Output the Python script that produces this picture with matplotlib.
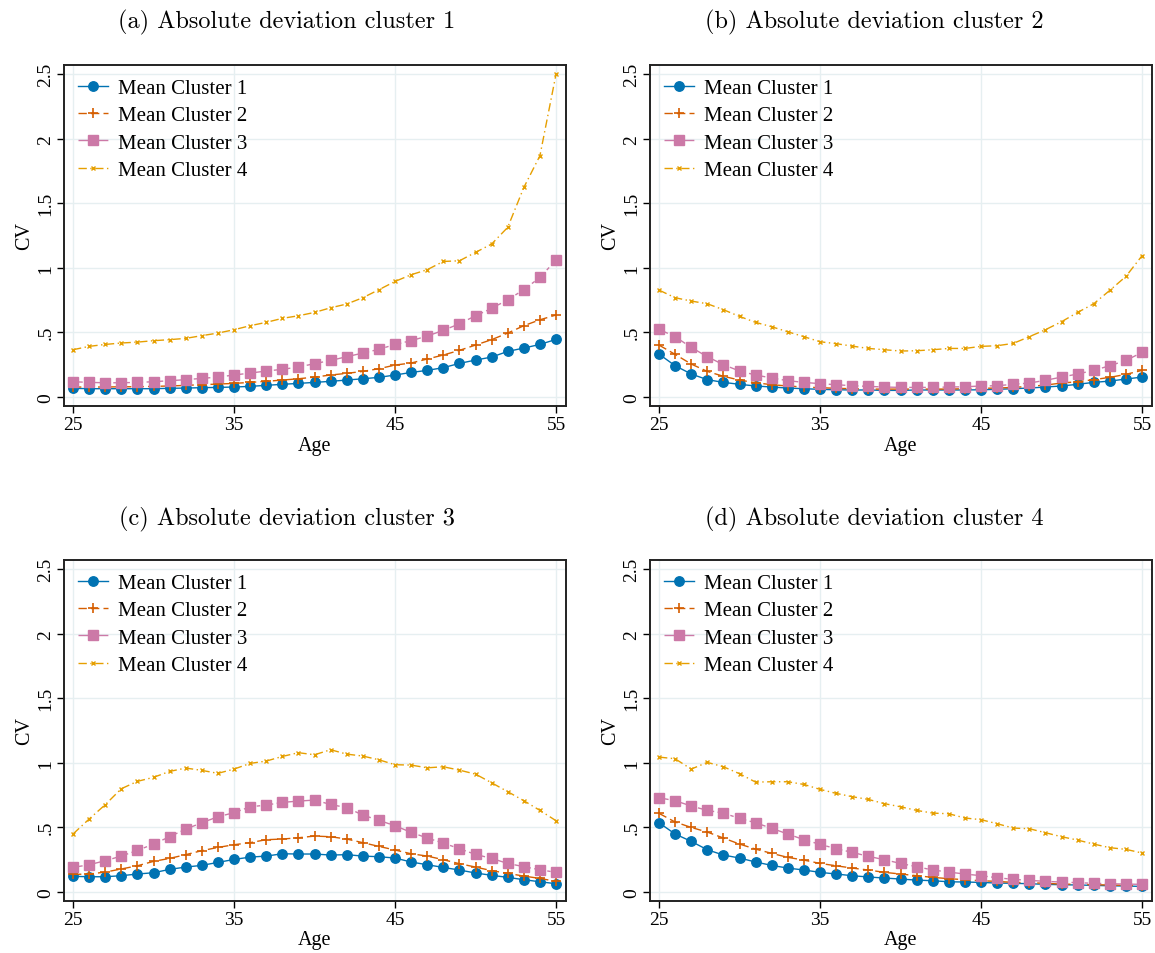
import matplotlib
matplotlib.use("Agg")
import matplotlib.pyplot as plt
import numpy as np

ages = list(range(25, 56))

# Panel (a): Absolute deviation cluster 1
a_c1 = [0.065,0.062,0.062,0.062,0.062,0.062,0.065,0.067,0.070,0.072,0.075,0.080,0.088,0.096,0.103,0.111,0.119,0.129,0.139,0.150,0.168,0.188,0.204,0.225,0.258,0.284,0.307,0.351,0.377,0.405,0.444]
a_c2 = [0.075,0.075,0.075,0.077,0.077,0.080,0.083,0.088,0.093,0.098,0.103,0.111,0.119,0.129,0.139,0.152,0.168,0.181,0.196,0.217,0.245,0.261,0.292,0.323,0.359,0.400,0.442,0.493,0.550,0.596,0.633]
a_c3 = [0.116,0.111,0.108,0.108,0.111,0.116,0.124,0.132,0.142,0.152,0.168,0.183,0.199,0.212,0.230,0.256,0.281,0.310,0.338,0.367,0.405,0.434,0.470,0.514,0.565,0.627,0.684,0.751,0.829,0.924,1.059]
a_c4 = [0.364,0.390,0.405,0.416,0.423,0.434,0.442,0.452,0.473,0.493,0.519,0.550,0.576,0.607,0.627,0.653,0.689,0.718,0.767,0.829,0.893,0.945,0.984,1.048,1.053,1.118,1.183,1.312,1.621,1.867,2.499]

# Panel (b): Absolute deviation cluster 2
b_c1 = [0.330,0.240,0.176,0.132,0.111,0.096,0.083,0.075,0.067,0.062,0.057,0.054,0.052,0.052,0.049,0.049,0.052,0.052,0.052,0.052,0.054,0.057,0.062,0.067,0.075,0.083,0.096,0.111,0.121,0.137,0.152]
b_c2 = [0.400,0.328,0.253,0.196,0.158,0.129,0.108,0.093,0.083,0.075,0.070,0.065,0.062,0.059,0.059,0.059,0.059,0.059,0.059,0.062,0.065,0.067,0.072,0.080,0.090,0.106,0.116,0.132,0.150,0.173,0.204]
b_c3 = [0.522,0.465,0.382,0.310,0.248,0.199,0.168,0.145,0.124,0.111,0.101,0.093,0.085,0.080,0.075,0.072,0.072,0.072,0.075,0.077,0.083,0.085,0.096,0.106,0.127,0.152,0.176,0.204,0.240,0.281,0.343]
b_c4 = [0.826,0.767,0.741,0.720,0.674,0.622,0.576,0.542,0.503,0.465,0.426,0.411,0.392,0.374,0.364,0.354,0.356,0.364,0.374,0.374,0.390,0.395,0.413,0.465,0.519,0.581,0.653,0.720,0.824,0.932,1.092]

# Panel (c): Absolute deviation cluster 3
c_c1 = [0.119,0.116,0.116,0.124,0.137,0.147,0.173,0.191,0.204,0.227,0.250,0.268,0.276,0.294,0.292,0.292,0.284,0.287,0.276,0.271,0.261,0.230,0.209,0.188,0.168,0.145,0.127,0.111,0.093,0.077,0.062]
c_c2 = [0.134,0.137,0.152,0.176,0.201,0.235,0.258,0.287,0.318,0.343,0.364,0.380,0.403,0.408,0.418,0.431,0.426,0.408,0.380,0.351,0.323,0.294,0.276,0.248,0.217,0.191,0.163,0.142,0.121,0.103,0.080]
c_c3 = [0.188,0.209,0.240,0.276,0.320,0.369,0.426,0.485,0.534,0.581,0.612,0.658,0.671,0.692,0.702,0.710,0.676,0.651,0.594,0.553,0.511,0.460,0.416,0.377,0.333,0.289,0.258,0.219,0.194,0.170,0.150]
c_c4 = [0.447,0.563,0.674,0.798,0.855,0.886,0.932,0.958,0.940,0.917,0.950,0.994,1.012,1.048,1.077,1.061,1.100,1.066,1.051,1.022,0.984,0.981,0.960,0.968,0.942,0.911,0.844,0.775,0.705,0.630,0.550]

# Panel (d): Absolute deviation cluster 4
d_c1 = [0.534,0.447,0.390,0.325,0.284,0.261,0.230,0.204,0.183,0.168,0.150,0.137,0.124,0.114,0.106,0.098,0.090,0.085,0.077,0.075,0.072,0.067,0.065,0.062,0.057,0.054,0.052,0.049,0.046,0.044,0.041]
d_c2 = [0.607,0.540,0.498,0.462,0.416,0.369,0.330,0.297,0.266,0.245,0.219,0.201,0.183,0.168,0.150,0.137,0.124,0.111,0.101,0.093,0.085,0.080,0.072,0.070,0.065,0.059,0.057,0.054,0.052,0.049,0.046]
d_c3 = [0.728,0.705,0.664,0.630,0.609,0.568,0.534,0.491,0.447,0.403,0.367,0.333,0.305,0.274,0.248,0.219,0.194,0.168,0.152,0.137,0.124,0.108,0.096,0.088,0.080,0.075,0.070,0.065,0.062,0.059,0.057]
d_c4 = [1.043,1.030,0.950,1.002,0.968,0.914,0.849,0.852,0.852,0.831,0.793,0.762,0.736,0.715,0.682,0.658,0.630,0.609,0.604,0.571,0.558,0.527,0.493,0.488,0.457,0.426,0.400,0.369,0.341,0.328,0.300]

titles = ["(a) Absolute deviation cluster 1", "(b) Absolute deviation cluster 2",
          "(c) Absolute deviation cluster 3", "(d) Absolute deviation cluster 4"]
series_labels = ["Mean Cluster 1", "Mean Cluster 2", "Mean Cluster 3", "Mean Cluster 4"]
x_ticks = [25, 35, 45, 55]
y_ticks = [0, 0.5, 1, 1.5, 2, 2.5]
y_ticklabels = ["0", ".5", "1", "1.5", "2", "2.5"]

panels = [[a_c1, a_c2, a_c3, a_c4], [b_c1, b_c2, b_c3, b_c4],
          [c_c1, c_c2, c_c3, c_c4], [d_c1, d_c2, d_c3, d_c4]]

colors = ["#0072B2", "#D55E00", "#CC79A7", "#E69F00"]
styles = [
    dict(linestyle="-", marker="o", markersize=6.8, lw=1.0),
    dict(linestyle=(0, (6, 3)), marker="+", markersize=6.5, markeredgewidth=1.2, lw=1.0),
    dict(linestyle=(0, (7, 2.5, 2.5, 2.5)), marker="s", markersize=6.8, lw=1.0),
    dict(linestyle=(0, (6, 2.5, 1, 2.5)), marker="x", markersize=3.2, markeredgewidth=1.0, lw=1.0),
]

plt.rcParams["font.family"] = ["Liberation Serif", "DejaVu Serif"]

fig = plt.figure(figsize=(11.55, 9.54), dpi=100)
W, H = 1155, 954
ax_left = [64, 650]
ax_top = [66, 561]
ax_w = 502
ax_h = 341
title_x = [287, 874]
title_y = [22, 519]

for idx, data in enumerate(panels):
    r, c = divmod(idx, 2)
    l = ax_left[c]
    t = ax_top[r]
    ax = fig.add_axes([l / W, (H - t - ax_h) / H, ax_w / W, ax_h / H])
    for k in range(4):
        ax.plot(ages, data[k], color=colors[k], label=series_labels[k], **styles[k])
    ax.set_xlim(24.44, 55.62)
    ax.set_ylim(-0.072, 2.57)
    ax.set_xticks(x_ticks)
    ax.set_yticks(y_ticks)
    ax.set_yticklabels(y_ticklabels, rotation=90, va="center")
    ax.tick_params(axis="both", direction="out", length=5, width=1.0, labelsize=14, colors="black")
    ax.tick_params(axis="y", pad=2)
    ax.tick_params(axis="x", pad=2.5)
    ax.grid(True, color="#E6EFF1", lw=1.0)
    ax.set_axisbelow(True)
    for sp in ax.spines.values():
        sp.set_linewidth(1.4)
        sp.set_color("#222222")
    ax.set_xlabel("Age", fontsize=14.5, labelpad=1.5)
    ax.set_ylabel("CV", fontsize=14.5, labelpad=2)
    leg = ax.legend(loc="upper left", frameon=False, fontsize=15, handlelength=1.45,
                    handletextpad=0.5, labelspacing=0.37, borderaxespad=0.25,
                    bbox_to_anchor=(0.0, 1.0))
    fig.text(title_x[c] / W, 1 - title_y[r] / H, titles[idx], family="cmr10",
             fontsize=17.5, ha="center", va="center")

fig.savefig("out.png", dpi=100)
